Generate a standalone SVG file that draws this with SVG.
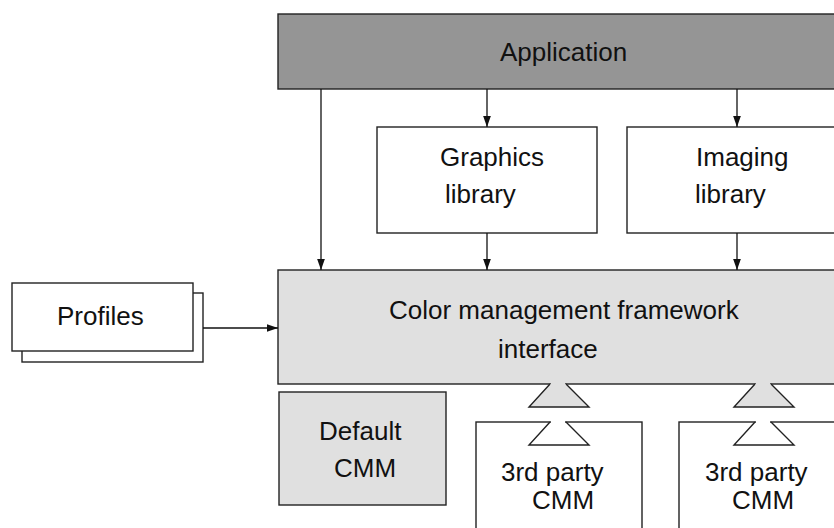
<svg xmlns="http://www.w3.org/2000/svg" width="834" height="528" viewBox="0 0 834 528">
<style>
  .box { stroke: #222; stroke-width: 1.4; }
  .white { fill: #ffffff; }
  .light { fill: #e0e0e0; }
  .dark { fill: #959595; }
  .edge { fill: none; stroke: #222; stroke-width: 1.4; }
  .lbl { font-family: "Liberation Sans", Arial, sans-serif; font-size: 26px; fill: #111; }
  .conn { stroke: #111; stroke-width: 1.3; fill: none; }
</style>
<defs>
  <marker id="arr" viewBox="0 0 10 10" refX="10" refY="5" markerWidth="11" markerHeight="11" markerUnits="userSpaceOnUse" orient="auto">
    <path d="M0,1.5 L10,5 L0,8.5 z" fill="#111"/>
  </marker>
</defs>
<rect width="834" height="528" fill="#ffffff"/>

<g id="application">
  <rect class="box dark" x="278" y="14" width="570" height="75"/>
  <text class="lbl" x="500" y="61">Application</text>
</g>

<g id="graphics-library">
  <rect class="box white" x="377" y="127" width="220" height="106"/>
  <text class="lbl" x="440" y="166">Graphics</text>
  <text class="lbl" x="445" y="203">library</text>
</g>

<g id="imaging-library">
  <rect class="box white" x="627" y="127" width="220" height="106"/>
  <text class="lbl" x="696" y="166">Imaging</text>
  <text class="lbl" x="695" y="203">library</text>
</g>

<g id="framework">
  <rect class="box light" x="278" y="270" width="570" height="114"/>
  <text class="lbl" x="389" y="319">Color management framework</text>
  <text class="lbl" x="498" y="358">interface</text>
  <polygon class="light" points="550,384 529,407 589,407 566,384"/>
  <line x1="551" y1="384" x2="565" y2="384" stroke="#e0e0e0" stroke-width="2.2"/>
  <polyline class="edge" points="550,384 529,407 589,407 566,384"/>
  <polygon class="light" points="755,384 734,407 794,407 771,384"/>
  <line x1="756" y1="384" x2="770" y2="384" stroke="#e0e0e0" stroke-width="2.2"/>
  <polyline class="edge" points="755,384 734,407 794,407 771,384"/>
</g>

<g id="profiles">
  <rect class="box white" x="22" y="293" width="181" height="69"/>
  <rect class="box white" x="12" y="283" width="181" height="68"/>
  <text class="lbl" x="57" y="325">Profiles</text>
</g>

<g id="default-cmm">
  <rect class="box light" x="279" y="392" width="167" height="113"/>
  <text class="lbl" x="319" y="440">Default</text>
  <text class="lbl" x="334" y="477">CMM</text>
</g>

<g id="cmm-1">
  <rect class="box white" x="476" y="422" width="166" height="120"/>
  <line x1="551" y1="422" x2="565" y2="422" stroke="#ffffff" stroke-width="2.2"/>
  <polyline class="edge" points="550,422 529,445 589,445 566,422"/>
  <text class="lbl" x="501" y="481">3rd party</text>
  <text class="lbl" x="532" y="509">CMM</text>
</g>

<g id="cmm-2">
  <rect class="box white" x="679" y="422" width="170" height="120"/>
  <line x1="756" y1="422" x2="770" y2="422" stroke="#ffffff" stroke-width="2.2"/>
  <polyline class="edge" points="755,422 734,445 794,445 771,422"/>
  <text class="lbl" x="705" y="481">3rd party</text>
  <text class="lbl" x="732" y="509">CMM</text>
</g>

<g id="connectors">
  <line class="conn" x1="321" y1="89" x2="321" y2="270" marker-end="url(#arr)"/>
  <line class="conn" x1="487" y1="89" x2="487" y2="127" marker-end="url(#arr)"/>
  <line class="conn" x1="737" y1="89" x2="737" y2="127" marker-end="url(#arr)"/>
  <line class="conn" x1="487" y1="233" x2="487" y2="270" marker-end="url(#arr)"/>
  <line class="conn" x1="737" y1="233" x2="737" y2="270" marker-end="url(#arr)"/>
  <line class="conn" x1="203" y1="328" x2="278" y2="328" marker-end="url(#arr)"/>
</g>
</svg>
